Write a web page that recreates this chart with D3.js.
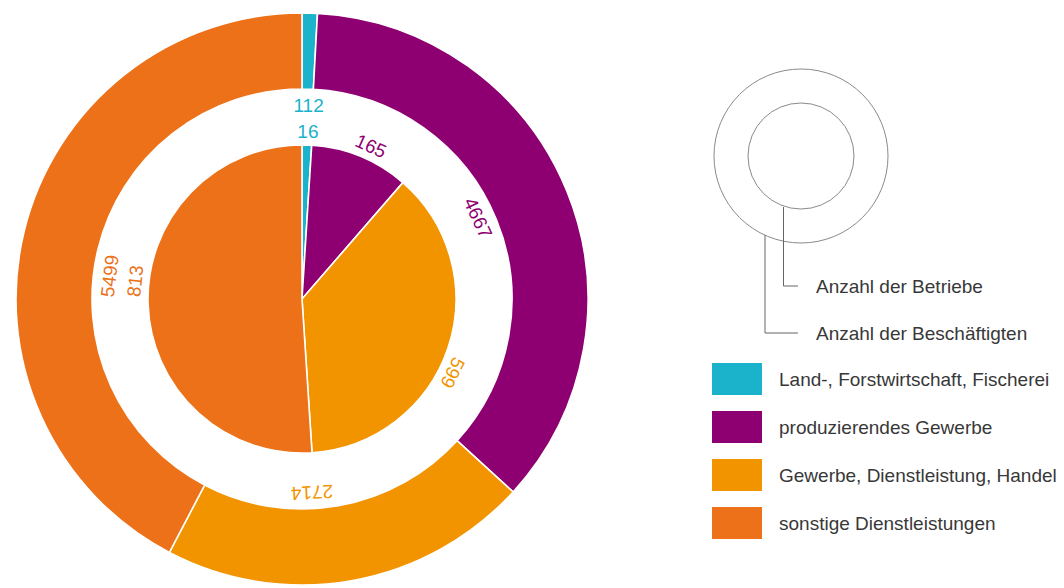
<!DOCTYPE html>
<html>
<head>
<meta charset="utf-8">
<script src="https://cdn.jsdelivr.net/npm/d3@7"></script>
<style>
  html, body { margin: 0; padding: 0; background: #fff; }
  svg { display: block; }
  text { font-family: "Liberation Sans", Arial, sans-serif; }
</style>
</head>
<body>
<svg id="chart" width="1064" height="588"></svg>
<script>
// Sectors, in drawing order (clockwise from 12 o'clock)
const sectors = [
  "Land-, Forstwirtschaft, Fischerei",
  "produzierendes Gewerbe",
  "Gewerbe, Dienstleistung, Handel",
  "sonstige Dienstleistungen"
];
// Outer ring: number of employees per sector
const employees = [112, 4667, 2714, 5499];
// Inner pie: number of businesses per sector
const businesses = [16, 165, 599, 813];
const sectorColors = ["#1bb2cb", "#8e0071", "#f29400", "#ec7118"];

const keyLabels = ["Anzahl der Betriebe", "Anzahl der Beschäftigten"];

// Layout
const cx = 302, cy = 299;
const outerR = 286, ringInnerR = 210, pieR = 154;
const outerLabelR = 194, innerLabelR = 168;
// small angular nudges (degrees) so labels sit clear of each other
const outerNudge = [0.4, -2.5, 7, -7];
const innerNudge = [0.2, 2, 7.5, 8];

const svg = d3.select("#chart");
const color = d3.scaleOrdinal().domain(sectors).range(sectorColors);

const pie = d3.pie().sort(null).value(d => d.value);
const outerData = pie(sectors.map((s, i) => ({ sector: s, value: employees[i] })));
const innerData = pie(sectors.map((s, i) => ({ sector: s, value: businesses[i] })));

const outerArc = d3.arc().innerRadius(ringInnerR).outerRadius(outerR);
const innerArc = d3.arc().innerRadius(0).outerRadius(pieR);

const g = svg.append("g").attr("transform", `translate(${cx},${cy})`);

g.selectAll("path.outer").data(outerData).join("path")
  .attr("class", "outer")
  .attr("d", outerArc)
  .attr("fill", d => color(d.data.sector))
  .attr("stroke", "#fff").attr("stroke-width", 1.6);

g.selectAll("path.inner").data(innerData).join("path")
  .attr("class", "inner")
  .attr("d", innerArc)
  .attr("fill", d => color(d.data.sector))
  .attr("stroke", "#fff").attr("stroke-width", 1.6);

function placeLabels(data, r, nudge, cls) {
  g.selectAll("text." + cls).data(data).join("text")
    .attr("class", cls)
    .attr("transform", (d, i) => {
      const deg = ((d.startAngle + d.endAngle) / 2) * 180 / Math.PI + nudge[i];
      const a = deg * Math.PI / 180;
      const x = r * Math.sin(a), y = -r * Math.cos(a);
      const rot = d.index === 0 ? 0 : deg;
      return `translate(${x},${y}) rotate(${rot})`;
    })
    .attr("text-anchor", "middle")
    .attr("dy", "0.36em")
    .attr("font-size", 19)
    .attr("fill", d => color(d.data.sector))
    .text(d => d.value);
}
placeLabels(outerData, outerLabelR, outerNudge, "outer-label");
placeLabels(innerData, innerLabelR, innerNudge, "inner-label");

// Key explaining the two rings
const key = svg.append("g").attr("transform", "translate(801,156)");
key.append("circle").attr("r", 87).attr("fill", "none").attr("stroke", "#8a8a8a").attr("stroke-width", 1);
key.append("circle").attr("r", 53).attr("fill", "none").attr("stroke", "#8a8a8a").attr("stroke-width", 1);
const leaders = [
  { x: -17.5, y0: 51, y1: 130 },
  { x: -36, y0: 79, y1: 177 }
];
key.selectAll("path.leader").data(leaders).join("path")
  .attr("class", "leader")
  .attr("d", d => `M${d.x},${d.y0}V${d.y1}H-3`)
  .attr("fill", "none").attr("stroke", "#666").attr("stroke-width", 1);
key.selectAll("text.keylabel").data(keyLabels).join("text")
  .attr("class", "keylabel")
  .attr("x", 15)
  .attr("y", (d, i) => leaders[i].y1)
  .attr("dy", "0.36em")
  .attr("font-size", 19)
  .attr("fill", "#383838")
  .text(d => d);

// Colour legend
const legend = svg.append("g").attr("transform", "translate(712,363)");
const item = legend.selectAll("g").data(sectors).join("g")
  .attr("transform", (d, i) => `translate(0,${i * 48})`);
item.append("rect").attr("width", 50).attr("height", 32).attr("fill", d => color(d));
item.append("text")
  .attr("x", 67).attr("y", 16).attr("dy", "0.36em")
  .attr("font-size", 19).attr("fill", "#383838")
  .text(d => d);
</script>
</body>
</html>
